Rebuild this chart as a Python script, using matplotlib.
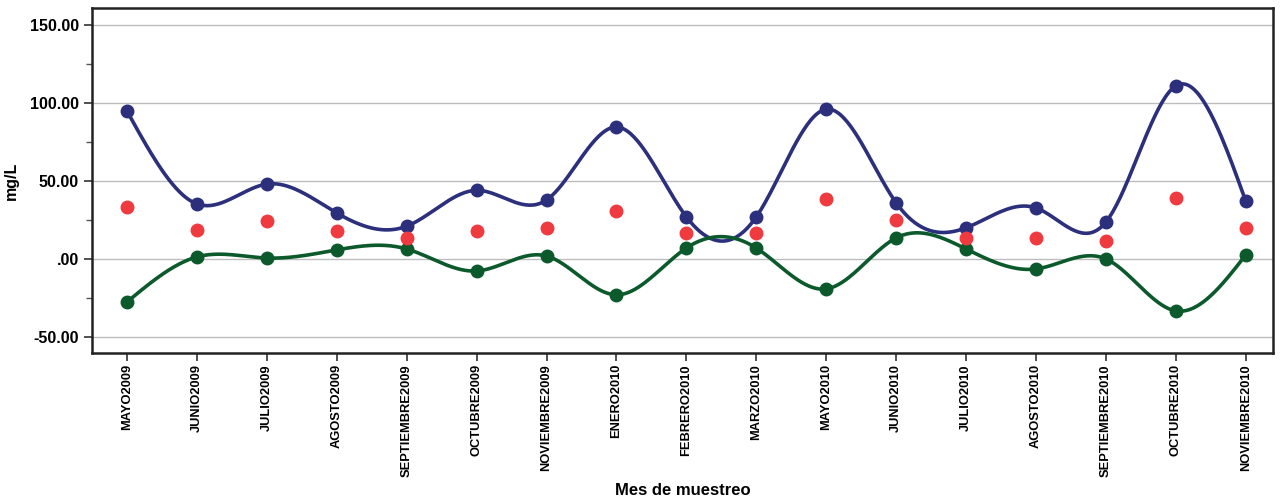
import numpy as np
import matplotlib
matplotlib.use("Agg")
import matplotlib.pyplot as plt
from matplotlib.ticker import MultipleLocator, FuncFormatter

meses = ["MAYO2009", "JUNIO2009", "JULIO2009", "AGOSTO2009", "SEPTIEMBRE2009",
         "OCTUBRE2009", "NOVIEMBRE2009", "ENERO2010", "FEBRERO2010", "MARZO2010",
         "MAYO2010", "JUNIO2010", "JULIO2010", "AGOSTO2010", "SEPTIEMBRE2010",
         "OCTUBRE2010", "NOVIEMBRE2010"]

superior = [94.9, 35.3, 48.0, 29.5, 21.0, 44.0, 37.8, 84.6, 27.0, 27.0,
            96.0, 36.0, 20.0, 32.7, 23.7, 111.0, 37.0]
media = [33.3, 18.6, 24.4, 18.0, 13.5, 18.0, 19.9, 30.8, 16.7, 16.7,
         38.5, 25.0, 13.5, 13.5, 11.5, 39.0, 20.0]
inferior = [-27.6, 1.3, 0.6, 5.8, 6.4, -7.7, 1.9, -23.0, 7.0, 7.0,
            -19.2, 13.5, 6.4, -6.4, 0.0, -33.3, 2.6]


def spline_natural(x, y, n=40):
    # cubic spline natural, solo para dibujar la curva suave
    x = np.asarray(x, float)
    y = np.asarray(y, float)
    k = len(x)
    h = np.diff(x)
    A = np.zeros((k, k))
    b = np.zeros(k)
    A[0, 0] = A[-1, -1] = 1
    for i in range(1, k - 1):
        A[i, i - 1] = h[i - 1]
        A[i, i] = 2 * (h[i - 1] + h[i])
        A[i, i + 1] = h[i]
        b[i] = 6 * ((y[i + 1] - y[i]) / h[i] - (y[i] - y[i - 1]) / h[i - 1])
    M = np.linalg.solve(A, b)
    xs, ys = [], []
    for i in range(k - 1):
        t = np.linspace(x[i], x[i + 1], n, endpoint=False)
        a = x[i + 1] - t
        c = t - x[i]
        s = (M[i] * a ** 3 + M[i + 1] * c ** 3) / (6 * h[i]) \
            + (y[i] / h[i] - M[i] * h[i] / 6) * a \
            + (y[i + 1] / h[i] - M[i + 1] * h[i] / 6) * c
        xs.append(t)
        ys.append(s)
    xs.append([x[-1]])
    ys.append([y[-1]])
    return np.concatenate(xs), np.concatenate(ys)


plt.rcParams['font.family'] = ['Liberation Sans', 'DejaVu Sans']

fig = plt.figure(figsize=(12.81, 5.01), dpi=100, facecolor='white')
ax = fig.add_axes([0.0718, 0.2954, 0.922, 0.6886])

x = np.arange(len(meses))
azul = '#2b2f7c'
verde = '#0c5a2c'
rojo = '#ef3a40'

for serie, color in [(superior, azul), (inferior, verde)]:
    xs, ys = spline_natural(x, serie)
    ax.plot(xs, ys, color=color, lw=2.6, zorder=3)
    ax.plot(x, serie, 'o', color=color, ms=9, zorder=4)
ax.plot(x, media, 'o', color=rojo, ms=9, zorder=4)

ax.set_xlim(-0.5, 16.39)
ax.set_ylim(-60.3, 160.9)
ax.yaxis.set_major_locator(MultipleLocator(50))
ax.yaxis.set_minor_locator(MultipleLocator(25))
ax.yaxis.set_major_formatter(FuncFormatter(
    lambda v, p: '.00' if abs(v) < 1e-9 else '{:.2f}'.format(v)))
ax.grid(axis='y', which='major', color='#bdbdbd', lw=1)
ax.set_axisbelow(True)

ax.set_xticks(x)
ax.set_xticklabels(meses, rotation=90, fontsize=9.3, fontweight='bold')
for lbl in ax.get_yticklabels():
    lbl.set_fontweight('bold')
    lbl.set_fontsize(11.5)
ax.tick_params(axis='both', which='major', length=6, width=1.2, color='#333333')
ax.tick_params(axis='x', pad=2)
ax.tick_params(axis='y', which='minor', length=4, width=1, color='#555555')

for s in ax.spines.values():
    s.set_linewidth(1.8)
    s.set_color('#222222')

ax.set_ylabel('mg/L', fontsize=11.5, fontweight='bold', labelpad=8)
ax.set_xlabel('Mes de muestreo', fontsize=12, fontweight='bold')
ax.xaxis.set_label_coords(0.5, -0.378)

fig.savefig('out.png', dpi=100)
